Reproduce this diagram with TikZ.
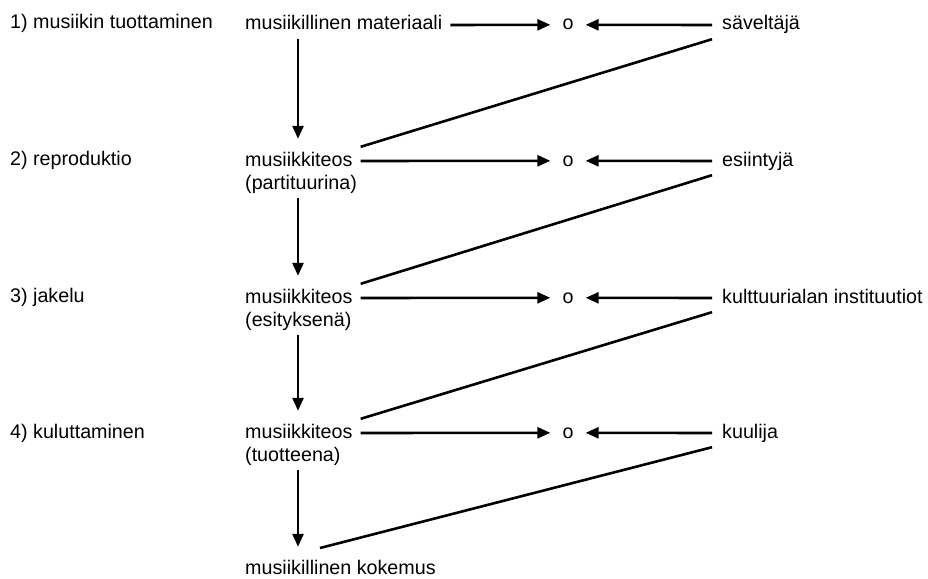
\documentclass[tikz,border=0pt]{standalone}
\usepackage{fontspec}
\setmainfont{Liberation Sans}
\usetikzlibrary{arrows.meta, positioning, calc}

\begin{document}
\begin{tikzpicture}[
    x=1pt, y=-1pt,
    font=\fontsize{19.7}{23}\selectfont,
    % styles
    stage_label/.style={anchor=base west, inner sep=0pt},
    work_node/.style={
        anchor=base west, inner xsep=8pt, inner ysep=5pt, text height=14pt, text depth=4pt
    },
    actor_node/.style={
        anchor=base west, inner xsep=10pt, inner ysep=5pt, text height=14pt, text depth=4pt
    },
    join_node/.style={anchor=base, inner xsep=12pt, inner ysep=5pt},
    flow_arrow/.style={
        -{Triangle[length=13pt,width=11pt]}, line width=2.6pt
    },
    down_arrow/.style={
        flow_arrow, shorten >=8pt
    },
    link_line/.style={line width=2.6pt}
]
    \useasboundingbox (0,0) rectangle (928,578);

    % --- 1. STAGES (left column) ---
    \node[stage_label] (stage1) at (10, 29) {1) musiikin tuottaminen};
    \node[stage_label] (stage2) at (10, 165) {2) reproduktio};
    \node[stage_label] (stage3) at (10, 302) {3) jakelu};
    \node[stage_label] (stage4) at (10, 438) {4) kuluttaminen};

    % --- 2. WORK (middle column) ---
    \coordinate (axis) at (298, 0);
    \node[work_node] (mat) at (237, 30) {musiikillinen materiaali};
    \node[work_node] (teos2) at (237, 166) {musiikkiteos};
    \node[work_node] (part2) at (237, 189) {(partituurina)};
    \node[work_node] (teos3) at (237, 303) {musiikkiteos};
    \node[work_node] (esit3) at (237, 326) {(esityksenä)};
    \node[work_node] (teos4) at (237, 438) {musiikkiteos};
    \node[work_node] (tuot4) at (237, 461) {(tuotteena)};
    \node[work_node] (kokemus) at (237, 574) {musiikillinen kokemus};
    \coordinate (kok_in) at (320, 548);

    % --- 3. JOINS ---
    \node[join_node] (join1) at (568, 30) {o};
    \node[join_node] (join2) at (568, 166) {o};
    \node[join_node] (join3) at (568, 303) {o};
    \node[join_node] (join4) at (568, 438) {o};

    % --- 4. ACTORS (right column) ---
    \node[actor_node] (savel) at (712, 30) {säveltäjä};
    \node[actor_node] (esiin) at (712, 166) {esiintyjä};
    \node[actor_node] (kult) at (712, 303) {kulttuurialan instituutiot};
    \node[actor_node] (kuul) at (712, 438) {kuulija};

    % Horizontal flows
    \draw[flow_arrow] (mat.east) -- (join1.west);
    \draw[flow_arrow] (savel.west) -- (join1.east);
    \draw[flow_arrow] (teos2.east) -- (join2.west);
    \draw[flow_arrow] (esiin.west) -- (join2.east);
    \draw[flow_arrow] (teos3.east) -- (join3.west);
    \draw[flow_arrow] (kult.west) -- (join3.east);
    \draw[flow_arrow] (teos4.east) -- (join4.west);
    \draw[flow_arrow] (kuul.west) -- (join4.east);

    % Vertical flows
    \draw[down_arrow] (mat.south -| axis) -- (teos2.north -| axis);
    \draw[down_arrow] (part2.south -| axis) -- (teos3.north -| axis);
    \draw[down_arrow] (esit3.south -| axis) -- (teos4.north -| axis);
    \draw[down_arrow] (tuot4.south -| axis) -- (kokemus.north -| axis);

    % Diagonal links
    \draw[link_line] (savel.south west) -- (teos2.north east);
    \draw[link_line] (esiin.south west) -- (teos3.north east);
    \draw[link_line] (kult.south west) -- (teos4.north east);
    \draw[link_line] (kuul.south west) -- (kok_in);

\end{tikzpicture}
\end{document}
